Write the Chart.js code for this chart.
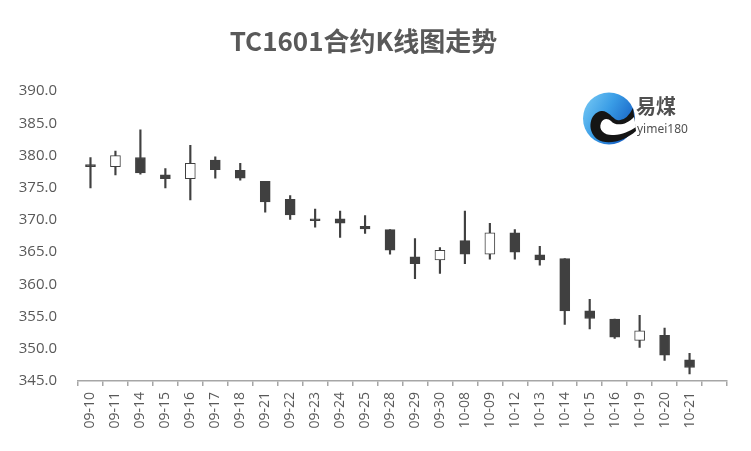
<!DOCTYPE html>
<html>
<head>
<meta charset="utf-8">
<title>TC1601合约K线图走势</title>
<script src="https://cdn.jsdelivr.net/npm/chart.js@4.4.1/dist/chart.umd.min.js"></script>
<style>
  html, body { margin: 0; padding: 0; background: #fff; }
  #wrap { width: 751px; height: 451px; }
</style>
</head>
<body>
<div id="wrap"><canvas id="myChart" width="751" height="451"></canvas></div>
<script>
// last slot is empty in the original chart
const labels = ['09-10', '09-11', '09-14', '09-15', '09-16', '09-17', '09-18', '09-21', '09-22',
    '09-23', '09-24', '09-25', '09-28', '09-29', '09-30', '10-08', '10-09', '10-12', '10-13',
    '10-14', '10-15', '10-16', '10-19', '10-20', '10-21', ''];

const openPrices  = [378.6, 378.3, 379.7, 377.0, 376.4, 379.3, 377.7, 376.0, 373.2, 370.2, 370.2, 369.0, 368.5,
    364.3, 363.8, 366.8, 364.7, 368.0, 364.6, 364.0, 355.9, 354.6, 351.3, 352.1, 348.3, null];
const closePrices = [378.3, 380.0, 377.3, 376.4, 378.8, 377.8, 376.5, 372.8, 370.8, 369.9, 369.5, 368.6, 365.3,
    363.2, 365.3, 364.7, 368.0, 365.0, 363.8, 355.9, 354.7, 351.8, 352.8, 349.0, 347.1, null];
const highPrices  = [379.7, 380.7, 384.0, 378.0, 381.6, 379.8, 378.8, 376.0, 373.8, 371.7, 371.4, 370.7, 368.5,
    367.1, 365.7, 371.4, 369.5, 368.5, 365.9, 364.0, 357.7, 354.6, 355.2, 353.2, 349.3, null];
const lowPrices   = [375.0, 377.0, 377.1, 375.0, 373.1, 376.5, 376.2, 371.2, 370.1, 368.9, 367.3, 367.9, 364.7,
    360.9, 361.7, 363.2, 363.9, 363.9, 363.0, 353.8, 353.1, 351.6, 350.2, 348.2, 346.1, null];

const yMin = 345;
const yMax = 390;
const yStep = 5;

const textColor = '#595959';
const candleColor = '#404040';

const bodies = labels.map((_, i) => openPrices[i] == null ? null : [openPrices[i], closePrices[i]]);
const wicks = labels.map((_, i) => lowPrices[i] == null ? null : [lowPrices[i], highPrices[i]]);
const bodyColors = labels.map((_, i) => closePrices[i] > openPrices[i] ? '#ffffff' : candleColor);

// logo in the top right corner
const logoPlugin = {
    id: 'logo',
    afterDraw(chart) {
        const ctx = chart.ctx;
        const cx = 609, cy = 118.5, r = 26;
        ctx.save();
        const g = ctx.createLinearGradient(cx - r, cy - r, cx + r, cy + 4);
        g.addColorStop(0, '#7ccdf6');
        g.addColorStop(0.5, '#3a9de6');
        g.addColorStop(1, '#1560c4');
        ctx.fillStyle = g;
        ctx.beginPath();
        ctx.arc(cx, cy, r, 0, Math.PI * 2);
        ctx.fill();

        // black swoosh
        ctx.fillStyle = '#151515';
        ctx.beginPath();
        ctx.moveTo(633, 108);
        ctx.quadraticCurveTo(626, 122, 617, 120);
        ctx.bezierCurveTo(612, 118, 608, 110, 601, 111);
        ctx.bezierCurveTo(590, 113, 586, 130, 597, 139);
        ctx.bezierCurveTo(607, 146, 625, 141, 636, 131);
        ctx.closePath();
        ctx.fill();

        // white inside of the swoosh
        ctx.fillStyle = '#ffffff';
        ctx.beginPath();
        ctx.moveTo(634, 117);
        ctx.bezierCurveTo(626, 126, 615, 126, 611, 121);
        ctx.bezierCurveTo(608, 118, 603, 118, 601, 123);
        ctx.bezierCurveTo(598, 130, 605, 136, 614, 135);
        ctx.bezierCurveTo(622, 135, 630, 131, 636, 127);
        ctx.closePath();
        ctx.fill();

        ctx.fillStyle = '#505050';
        ctx.textBaseline = 'alphabetic';
        ctx.font = 'bold 20px "Noto Sans CJK SC"';
        ctx.fillText('易煤', 636, 114);
        ctx.font = '12px "Noto Sans"';
        ctx.fillText('yimei180', 637, 133);
        ctx.restore();
    }
};

const ctx = document.getElementById('myChart').getContext('2d');

new Chart(ctx, {
    type: 'bar',
    data: {
        labels: labels,
        datasets: [{
            label: 'body',
            data: bodies,
            backgroundColor: bodyColors,
            borderColor: candleColor,
            borderWidth: 1,
            borderSkipped: false,
            barThickness: 10,
            grouped: false,
            order: 0
        }, {
            label: 'wick',
            data: wicks,
            backgroundColor: candleColor,
            borderWidth: 0,
            barThickness: 1.5,
            grouped: false,
            order: 1
        }]
    },
    options: {
        responsive: false,
        animation: false,
        layout: { padding: { top: 0, right: 24, bottom: 0, left: 0 } },
        plugins: {
            legend: { display: false },
            tooltip: { enabled: false },
            title: {
                display: true,
                text: 'TC1601合约K线图走势',
                color: textColor,
                font: { family: '"Noto Sans CJK SC", sans-serif', size: 26, weight: 'bold' },
                padding: { top: 26, bottom: 34 }
            }
        },
        scales: {
            x: {
                afterFit(scale) { scale.height = 70; },
                grid: {
                    display: true,
                    drawOnChartArea: false,
                    drawTicks: true,
                    tickLength: 5,
                    color: '#a6a6a6',
                    lineWidth: 1.5,
                    offset: true
                },
                border: { display: true, color: '#a6a6a6', width: 1.5 },
                ticks: {
                    color: textColor,
                    font: { family: '"Open Sans", sans-serif', size: 14 },
                    minRotation: 90,
                    maxRotation: 90,
                    autoSkip: false,
                    padding: 6
                }
            },
            y: {
                min: yMin,
                max: yMax,
                afterFit(scale) { scale.width = 78; },
                grid: { display: false, drawTicks: false },
                border: { display: false },
                ticks: {
                    stepSize: yStep,
                    color: textColor,
                    font: { family: '"Open Sans", sans-serif', size: 15 },
                    padding: 21,
                    callback: (v) => v.toFixed(1)
                }
            }
        }
    },
    plugins: [logoPlugin]
});
</script>
</body>
</html>
